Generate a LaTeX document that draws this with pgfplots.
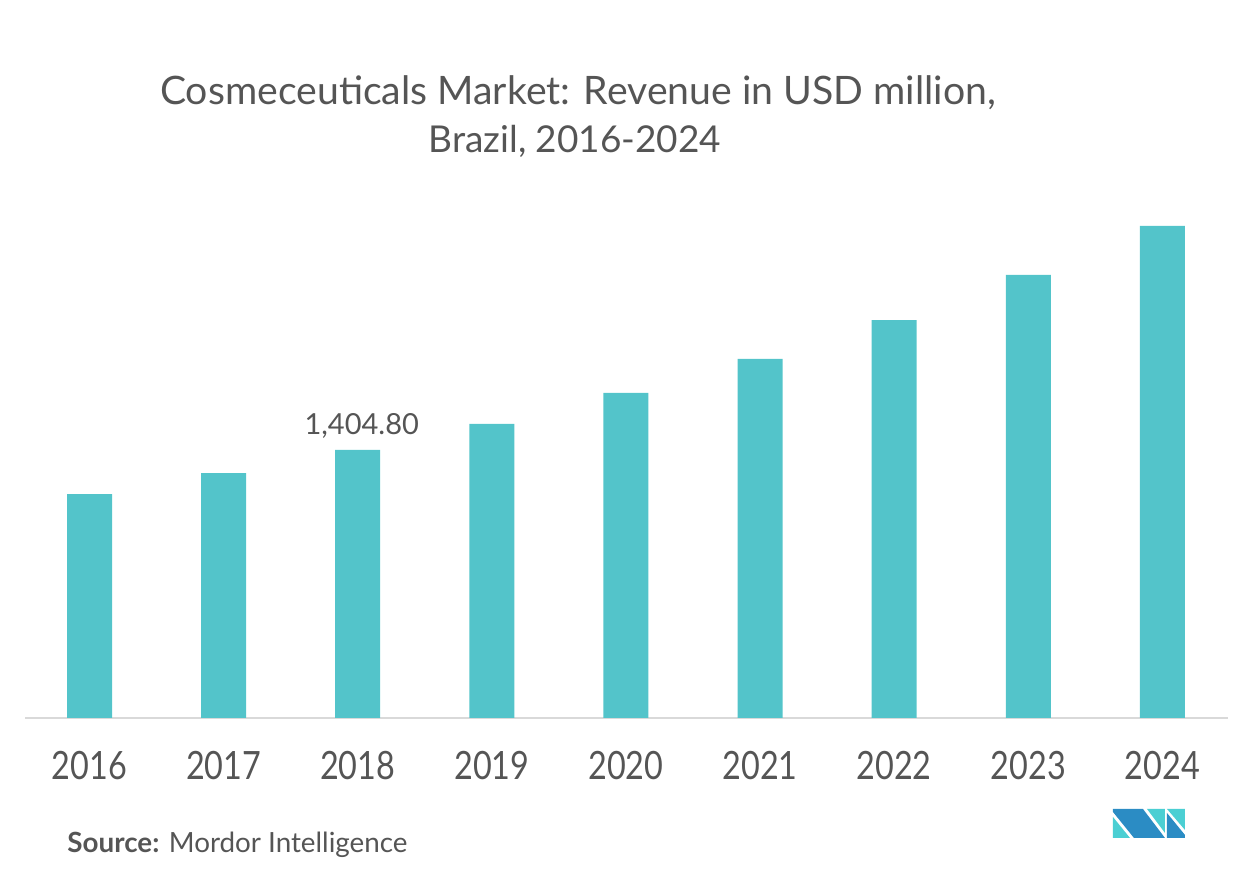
\documentclass[border=0pt]{standalone}
\usepackage{fontspec}
\setmainfont{Lato}
\newfontfamily\tickfont[FakeStretch=0.83]{Lato}
\usepackage{pgfplots}
\pgfplotsset{compat=1.18}
\definecolor{barc}{HTML}{53C4CA}
\definecolor{txt}{HTML}{555555}
\definecolor{axg}{HTML}{D9D9D9}
\definecolor{logodark}{HTML}{2B8CC4}
\definecolor{logocyan}{HTML}{4BCFD3}
\begin{document}
\begin{tikzpicture}
\useasboundingbox (0,0) rectangle (626bp,440bp);
\begin{axis}[
  at={(12.5bp,81bp)}, anchor=south west,
  scale only axis, width=601.5bp, height=259bp,
  xmin=-0.481, xmax=8.489, ymin=0, ymax=2715,
  axis x line*=bottom, hide y axis,
  x axis line style={draw=axg, line width=1.2bp, -},
  xtick={0,...,8},
  xticklabels={2016,2017,2018,2019,2020,2021,2022,2023,2024},
  major tick length=0pt,
  xticklabel style={font=\tickfont\fontsize{19.5bp}{22bp}\selectfont, text=txt, anchor=base, yshift=-31bp, inner sep=0pt},
  ybar, bar width=22.5bp,
  point meta=explicit symbolic,
  nodes near coords,
  every node near coord/.append style={font=\fontsize{14.5bp}{17bp}\selectfont, text=txt, anchor=base, yshift=7.5bp, xshift=2bp},
]
\addplot[fill=barc, draw=none] coordinates {
 (0,1174) []
 (1,1284) []
 (2,1404.8) [1,404.80]
 (3,1541) []
 (4,1704) []
 (5,1882) []
 (6,2086) []
 (7,2322) []
 (8,2579) []
};
\end{axis}
\begin{scope}[shift={(0bp,440bp)}, x=0.5bp, y=-0.5bp]
\node[anchor=base, text=txt, font=\fontsize{19.6bp}{22bp}\selectfont, inner sep=0pt] at (578,105) {Cosmeceuticals Market: Revenue in USD million,};
\node[anchor=base, text=txt, font=\fontsize{18.5bp}{22bp}\selectfont, inner sep=0pt] at (575,153) {Brazil, 2016-2024};
\node[anchor=base west, text=txt, font=\fontsize{13.9bp}{16bp}\selectfont, inner sep=0pt] at (67,853) {\textbf{Source:} Mordor Intelligence};
\fill[logodark] (1113,809) -- (1143,809) -- (1165,838) -- (1134,838) -- (1113,812) -- cycle;
\fill[logocyan] (1113,817) -- (1113,838) -- (1130,838) -- cycle;
\fill[logocyan] (1147,809) -- (1165,809) -- (1165,833) -- cycle;
\fill[logocyan] (1167,809) -- (1185,809) -- (1185,830) -- cycle;
\fill[logodark] (1167,813) -- (1185,835) -- (1185,838) -- (1167,838) -- cycle;
\end{scope}
\end{tikzpicture}
\end{document}
